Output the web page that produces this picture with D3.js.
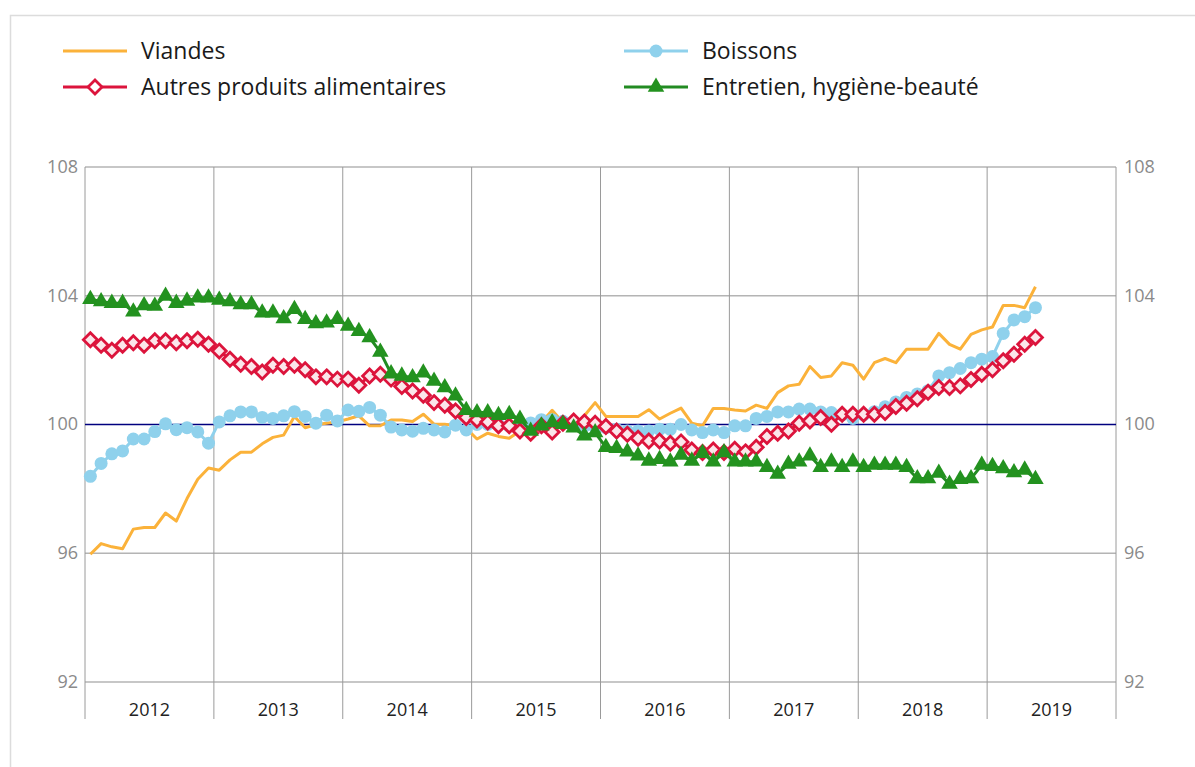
<!DOCTYPE html>
<html><head><meta charset="utf-8">
<script src="https://cdn.jsdelivr.net/npm/d3@7"></script>
<style>
html,body{margin:0;padding:0;background:#fff;}
svg{display:block;font-family:"Open Sans",sans-serif;}
</style></head>
<body>
<svg id="chart" width="1195" height="767"></svg>
<script>
const years = ["2012","2013","2014","2015","2016","2017","2018","2019"];
const yTicks = [92, 96, 100, 104, 108];

const viandes = [95.97,96.3,96.2,96.14,96.75,96.8,96.8,97.25,97.0,97.7,98.3,98.65,
98.58,98.9,99.14,99.14,99.4,99.6,99.67,100.25,99.9,100.0,100.04,100.08,
100.17,100.27,99.96,99.96,100.14,100.14,100.09,100.32,100.01,100.01,99.96,99.88,
99.55,99.73,99.63,99.57,99.8,99.85,100.06,100.44,100.06,99.96,100.27,100.68,
100.25,100.25,100.25,100.25,100.46,100.17,100.35,100.51,100.04,99.96,100.5,100.5,
100.45,100.42,100.6,100.5,100.99,101.2,101.25,101.8,101.46,101.51,101.92,101.84,
101.41,101.92,102.05,101.92,102.34,102.34,102.34,102.83,102.49,102.34,102.8,102.94,
103.03,103.7,103.7,103.63,104.28];

const boissons = [98.39,98.79,99.09,99.18,99.55,99.55,99.78,100.02,99.84,99.9,99.77,99.42,
100.08,100.27,100.39,100.39,100.22,100.19,100.27,100.4,100.25,100.04,100.29,100.11,
100.45,100.41,100.53,100.29,99.92,99.83,99.79,99.88,99.83,99.77,99.98,99.83,
100.0,100.0,100.0,99.95,100.0,100.05,100.15,100.15,100.1,100.0,99.95,99.9,
99.9,99.85,99.8,99.8,99.8,99.85,99.85,100.0,99.83,99.75,99.83,99.75,
99.96,99.96,100.19,100.25,100.39,100.39,100.48,100.48,100.39,100.37,100.3,100.19,
100.3,100.4,100.55,100.7,100.84,100.95,101.05,101.51,101.61,101.74,101.92,102.03,
102.11,102.83,103.25,103.35,103.63];

const autres = [102.63,102.46,102.31,102.46,102.54,102.46,102.6,102.6,102.54,102.6,102.65,102.49,
102.28,102.03,101.87,101.8,101.63,101.84,101.8,101.84,101.7,101.48,101.48,101.41,
101.41,101.22,101.51,101.56,101.41,101.18,101.04,100.91,100.68,100.6,100.42,100.22,
100.14,100.08,99.96,99.96,99.8,99.73,99.96,99.77,100.04,100.11,100.08,100.04,
99.94,99.8,99.7,99.57,99.49,99.49,99.42,99.46,99.21,99.13,99.21,99.13,
99.23,99.15,99.29,99.63,99.73,99.8,100.04,100.11,100.22,100.01,100.32,100.32,
100.32,100.32,100.37,100.56,100.66,100.8,101.0,101.15,101.15,101.2,101.4,101.56,
101.7,101.98,102.18,102.49,102.7];

const entretien = [103.89,103.82,103.77,103.77,103.5,103.7,103.68,103.99,103.77,103.84,103.94,103.94,
103.87,103.82,103.73,103.73,103.47,103.47,103.29,103.58,103.27,103.14,103.16,103.27,
103.06,102.9,102.7,102.25,101.58,101.51,101.46,101.61,101.35,101.15,100.89,100.44,
100.37,100.37,100.29,100.32,100.17,99.8,99.96,100.06,100.01,99.9,99.65,99.75,
99.29,99.26,99.15,99.03,98.87,98.92,98.84,99.05,98.87,99.11,98.84,99.13,
98.84,98.84,98.84,98.67,98.46,98.77,98.84,99.03,98.67,98.84,98.67,98.84,
98.67,98.74,98.74,98.74,98.67,98.32,98.32,98.49,98.15,98.3,98.32,98.74,
98.7,98.63,98.51,98.59,98.3];

const seriesNames = ["Viandes","Boissons","Autres produits alimentaires","Entretien, hygiène-beauté"];

const svg = d3.select("#chart");
const L = 85, R = 1116, T = 167, B = 682;
const x = d3.scaleLinear().domain([0, years.length * 12]).range([L, R]);
const y = d3.scaleLinear().domain([92, 108]).range([B, T]);

// outer frame
svg.append("rect").attr("x", 10.5).attr("y", 15.5).attr("width", 1200).attr("height", 800)
  .attr("fill", "none").attr("stroke", "#dcdcdc").attr("stroke-width", 1.5);

// horizontal gridlines
svg.append("g").selectAll("line").data(yTicks.filter(v => v !== 100)).join("line")
  .attr("x1", L).attr("x2", R).attr("y1", d => y(d)).attr("y2", d => y(d))
  .attr("stroke", "#b4b4b4").attr("stroke-width", 1.5);

// vertical year lines
const yearBounds = d3.range(0, years.length + 1).map(k => k * 12);
svg.append("g").selectAll("line").data(yearBounds).join("line")
  .attr("x1", d => x(d)).attr("x2", d => x(d)).attr("y1", T).attr("y2", 719)
  .attr("stroke", "#9a9a9a").attr("stroke-width", 1);

// y tick labels left & right
svg.append("g").selectAll("text").data(yTicks).join("text")
  .attr("x", 78).attr("y", d => y(d) + 1).attr("text-anchor", "end").attr("dominant-baseline", "middle")
  .attr("font-size", 18).attr("fill", "#8a8a8a").text(d => d);
svg.append("g").selectAll("text").data(yTicks).join("text")
  .attr("x", 1124).attr("y", d => y(d) + 1).attr("text-anchor", "start").attr("dominant-baseline", "middle")
  .attr("font-size", 18).attr("fill", "#8a8a8a").text(d => d);

// year labels
svg.append("g").selectAll("text").data(years).join("text")
  .attr("x", (d, i) => x(i * 12 + 6)).attr("y", 711).attr("text-anchor", "middle")
  .attr("dominant-baseline", "middle").attr("font-size", 18).attr("fill", "#222").text(d => d);

// 100 reference line
svg.append("line").attr("x1", L).attr("x2", R).attr("y1", y(100)).attr("y2", y(100))
  .attr("stroke", "#00007f").attr("stroke-width", 1.5);

const line = d3.line().x((d, i) => x(i + 0.5)).y(d => y(d));

const diamondPath = s => `M0,${-s}L${s},0L0,${s}L${-s},0Z`;
const triPath = d3.symbol().type(d3.symbolTriangle).size(118)();

// Viandes
svg.append("path").datum(viandes).attr("d", line).attr("fill", "none")
  .attr("stroke", "#fbb23a").attr("stroke-width", 3).attr("stroke-linejoin", "round");

// Boissons
svg.append("path").datum(boissons).attr("d", line).attr("fill", "none")
  .attr("stroke", "#8fd1ec").attr("stroke-width", 3);
svg.append("g").selectAll("circle").data(boissons).join("circle")
  .attr("cx", (d, i) => x(i + 0.5)).attr("cy", d => y(d)).attr("r", 6.5).attr("fill", "#8fd1ec");

// Autres
svg.append("path").datum(autres).attr("d", line).attr("fill", "none")
  .attr("stroke", "#dc143c").attr("stroke-width", 3);
svg.append("g").selectAll("path").data(autres).join("path")
  .attr("d", diamondPath(7)).attr("transform", (d, i) => `translate(${x(i + 0.5)},${y(d)})`)
  .attr("fill", "#fbe6ea").attr("stroke", "#dc143c").attr("stroke-width", 2.8);

// Entretien
svg.append("path").datum(entretien).attr("d", line).attr("fill", "none")
  .attr("stroke", "#228b22").attr("stroke-width", 3);
svg.append("g").selectAll("path").data(entretien).join("path")
  .attr("d", triPath).attr("transform", (d, i) => `translate(${x(i + 0.5)},${y(d)})`)
  .attr("fill", "#23921f");

// Legend
const lg = svg.append("g");
const legendItems = [
  {name: seriesNames[0], x: 63, y: 51, color: "#fbb23a", mark: "none"},
  {name: seriesNames[2], x: 63, y: 87, color: "#dc143c", mark: "diamond"},
  {name: seriesNames[1], x: 624, y: 51, color: "#8fd1ec", mark: "circle"},
  {name: seriesNames[3], x: 624, y: 87, color: "#228b22", mark: "triangle"}
];
legendItems.forEach(it => {
  lg.append("line").attr("x1", it.x).attr("x2", it.x + 64).attr("y1", it.y).attr("y2", it.y)
    .attr("stroke", it.color).attr("stroke-width", 3);
  const cx = it.x + 32;
  if (it.mark === "diamond") {
    lg.append("path").attr("d", diamondPath(7)).attr("transform", `translate(${cx},${it.y})`)
      .attr("fill", "#fff").attr("stroke", it.color).attr("stroke-width", 2.8);
  } else if (it.mark === "circle") {
    lg.append("circle").attr("cx", cx).attr("cy", it.y).attr("r", 6.5).attr("fill", it.color);
  } else if (it.mark === "triangle") {
    lg.append("path").attr("d", triPath).attr("transform", `translate(${cx},${it.y})`).attr("fill", "#23921f");
  }
  lg.append("text").attr("x", it.x + 78).attr("y", it.y + 2).attr("dominant-baseline", "middle")
    .attr("font-size", 23).attr("fill", "#1a1a1a").text(it.name);
});
</script>
</body></html>
